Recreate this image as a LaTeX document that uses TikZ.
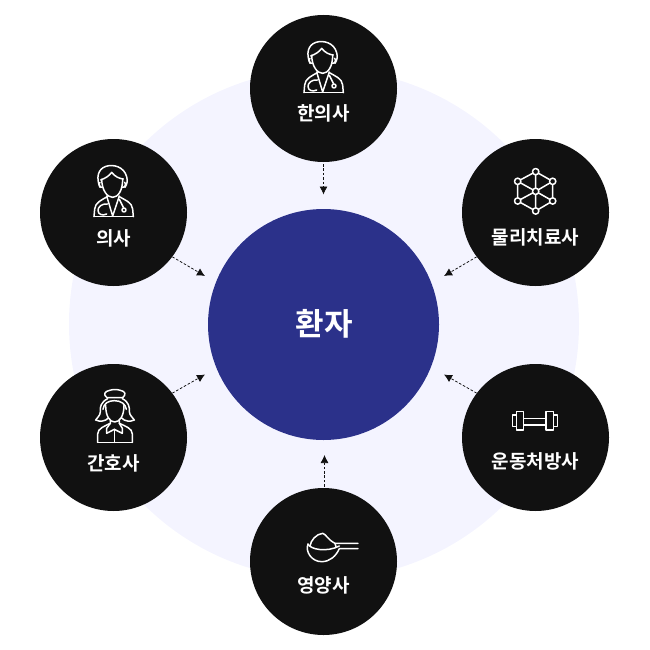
\documentclass[tikz,border=0pt]{standalone}
\usepackage{fontspec}
\usetikzlibrary{arrows.meta}
\setmainfont{Noto Sans CJK KR}[BoldFont={Noto Sans CJK KR Bold}]
\definecolor{halo}{HTML}{F4F4FF}
\definecolor{ink}{HTML}{111111}
\definecolor{navy}{HTML}{2B318A}
\tikzset{
  x=1pt,y=-1pt,
  staff/.style={circle,fill=ink,minimum size=147pt,inner sep=0pt},
  patient/.style={circle,fill=navy,minimum size=231pt,inner sep=0pt},
  lbl/.style={text=white,font=\fontsize{19pt}{21pt}\bfseries,inner sep=0pt},
  link/.style={line width=.75pt,draw=ink,-{Latex[length=8pt,width=8pt]},dash pattern=on 2.6pt off 1.8pt},
  ico/.style={draw=white,line width=1.5pt,line join=round,line cap=round},
}
\newcommand{\docicon}[2]{%
\begin{scope}[shift={(#1,#2)},x=.3333pt,y=-.3333pt,ico]
 \draw (90,100) .. controls (78,72) and (83,45) .. (108,37) .. controls (130,30) and (162,38) .. (170,68) .. controls (173,80) and (172,90) .. (165,100);
 \draw (92,78) .. controls (108,72) and (118,65) .. (125,55) .. controls (135,68) and (148,74) .. (160,75);
 \draw (95,76) .. controls (96,110) and (112,130) .. (128,130) .. controls (144,130) and (158,110) .. (158,76);
 \draw (90,85) .. controls (84,90) and (90,102) .. (97,100);
 \draw (164,85) .. controls (170,90) and (164,102) .. (157,100);
 \draw (72,188) -- (190,188);
 \draw (72,188) -- (74,165) .. controls (76,145) and (95,138) .. (112,128);
 \draw (190,188) -- (188,165) .. controls (186,145) and (165,138) .. (148,128);
 \draw (110,126) -- (128,186) -- (148,126);
 \draw (112,150) .. controls (95,148) and (83,160) .. (84,170) .. controls (85,182) and (98,186) .. (110,180);
 \draw (148,136) -- (160,160);
 \draw (162,168) circle[radius=6];
\end{scope}}
\begin{document}
\begin{tikzpicture}
\useasboundingbox (0,0) rectangle (650,650);
\fill[halo] (324,324) circle[radius=255];
\node[staff] (top) at (323.5,88.5) {};
\node[staff] (ul) at (113.5,212.5) {};
\node[staff] (ll) at (113.5,437.5) {};
\node[staff] (ur) at (535.5,212.5) {};
\node[staff] (lr) at (535.5,437.5) {};
\node[staff] (bot) at (323.5,561.5) {};
\node[patient] (pt) at (323.5,324.5) {};
\coordinate (etop) at (323.5,194.5);
\coordinate (eul) at (205,276);
\coordinate (eur) at (444,276);
\coordinate (ell) at (205,374.5);
\coordinate (elr) at (444,374.5);
\coordinate (ebot) at (324.5,455);
\draw[link] (top) ++(0,75.5) coordinate (stop) (stop) -- (etop);
\draw[link] (ul.-37) -- (eul);
\draw[link] (ur.217) -- (eur);
\draw[link] (ll.37) -- (ell);
\draw[link] (lr.143) -- (elr);
\draw[link] (bot.north) ++(1,-1) coordinate (sbot) (sbot) -- (ebot);
\node[lbl] (ltop) at (323.5,113.5) {한의사};
\node[lbl] (lul) at (113.5,238.5) {의사};
\node[lbl] (lur) at (535.5,237) {물리치료사};
\node[lbl] (lll) at (113.5,463) {간호사};
\node[lbl] (llr) at (535.5,461.5) {운동처방사};
\node[lbl] (lbot) at (323.5,585.5) {영양사};
\node[text=white,inner sep=0pt,font=\fontsize{31pt}{34pt}\bfseries] (lpt) at (324,323.5) {환자};
\docicon{280}{30}
\docicon{70}{154}
% network
\begin{scope}[shift={(495,155)},x=.3333pt,y=-.3333pt,ico]
 \coordinate (n1) at (122,50); \coordinate (n2) at (173,79); \coordinate (n3) at (173,138);
 \coordinate (n4) at (122,168); \coordinate (n5) at (68,138); \coordinate (n6) at (68,79); \coordinate (n0) at (122,109);
 \draw (n1)--(n2)--(n3)--(n4)--(n5)--(n6)--cycle;
 \draw (n0)--(n1) (n0)--(n2) (n0)--(n3) (n0)--(n4) (n0)--(n5) (n0)--(n6);
 \foreach \p in {n0,n1,n2,n3,n4,n5,n6} \draw[fill=ink] (\p) circle[radius=9.5];
\end{scope}
% nurse
\begin{scope}[shift={(75,380)},x=.3333pt,y=-.3333pt,ico]
 \draw (96,53) .. controls (84,44) and (88,34) .. (104,31) .. controls (112,28) and (128,28) .. (136,31) .. controls (152,34) and (154,44) .. (143,53) -- cycle;
 \draw (98,56) .. controls (78,66) and (74,82) .. (76,95) .. controls (76,108) and (66,112) .. (62,120) .. controls (74,126) and (92,124) .. (100,114);
 \draw (142,56) .. controls (162,66) and (164,82) .. (163,95) .. controls (164,108) and (174,112) .. (178,120) .. controls (166,126) and (148,124) .. (140,114);
 \draw (84,88) .. controls (86,70) and (100,62) .. (118,62) .. controls (138,62) and (152,72) .. (154,88);
 \draw (92,76) .. controls (92,108) and (104,126) .. (119,126) .. controls (134,126) and (147,108) .. (147,76);
 \draw (68,187) -- (172,187);
 \draw (68,187) -- (68,162) .. controls (68,145) and (90,138) .. (106,130);
 \draw (172,187) -- (172,162) .. controls (172,145) and (150,138) .. (133,130);
 \draw (106,122) -- (106,130) -- (95,145) -- (95,160) -- (118,148) -- (142,160) -- (142,145) -- (133,130) -- (133,122);
 \draw (118,148) -- (118,187);
\end{scope}
% dumbbell
\begin{scope}[shift={(495,395)},x=.3333pt,y=-.3333pt,ico]
 \draw (53,60) rectangle (65,95);
 \draw (65,50) rectangle (85,105);
 \draw (85,70) rectangle (153,90);
 \draw (153,50) rectangle (175,105);
 \draw (175,60) rectangle (187,95);
\end{scope}
% spoon
\begin{scope}[shift={(290,520)},x=.3333pt,y=-.3333pt,ico]
 \draw (54,72) .. controls (45,95) and (65,125) .. (95,125) .. controls (120,125) and (138,108) .. (148,86) -- (204,86);
 \draw (54,72) .. controls (60,88) and (110,98) .. (148,78);
 \draw (60,78) .. controls (62,62) and (78,42) .. (98,40) .. controls (108,42) and (112,58) .. (135,70) -- (204,70);
 \draw (135,70) -- (138,80);
\end{scope}
\end{tikzpicture}
\end{document}
